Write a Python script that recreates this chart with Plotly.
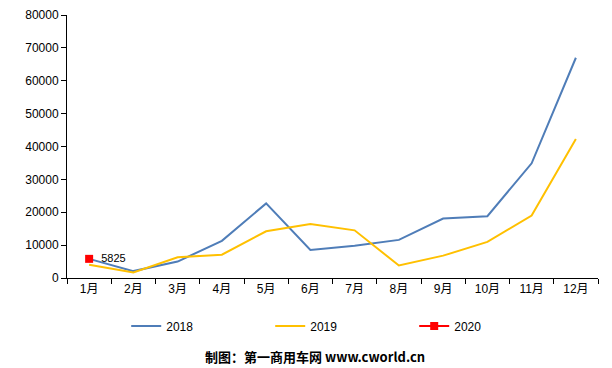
import plotly.graph_objects as go

months = ["1月", "2月", "3月", "4月", "5月", "6月", "7月", "8月", "9月", "10月", "11月", "12月"]
v2018 = [5825, 2100, 5000, 11300, 22700, 8500, 9800, 11600, 18100, 18800, 34900, 67000]
v2019 = [4000, 1700, 6300, 7100, 14200, 16400, 14500, 3800, 6800, 11000, 19000, 42300]
v2020 = [5825]
months2020 = ["1月"]
y_ticks = [0, 10000, 20000, 30000, 40000, 50000, 60000, 70000, 80000]

font_main = "Liberation Sans, Arial, Noto Sans CJK SC, sans-serif"

fig = go.Figure()
fig.add_trace(go.Scatter(x=months, y=v2018, name="2018", mode="lines",
                         line=dict(color="#4F7DB8", width=2)))
fig.add_trace(go.Scatter(x=months, y=v2019, name="2019", mode="lines",
                         line=dict(color="#FFC000", width=2)))
fig.add_trace(go.Scatter(x=months2020, y=v2020, name="2020", mode="lines+markers+text",
                         line=dict(color="#FF0000", width=2),
                         marker=dict(symbol="square", size=8, color="#FF0000"),
                         text=["\u00a0\u00a0" + str(v) for v in v2020], textposition="middle right",
                         textfont=dict(size=11, color="#000000")))

fig.update_layout(
    width=612, height=368,
    margin=dict(l=59, r=22, t=7, b=98, autoexpand=False),
    paper_bgcolor="white", plot_bgcolor="white",
    font=dict(family=font_main, size=12, color="#000000"),
    showlegend=True,
    legend=dict(orientation="h", xref="paper", yref="paper",
                x=0.1115, y=-0.1825, xanchor="left", yanchor="middle",
                entrywidth=99, entrywidthmode="pixels",
                font=dict(size=12)),
    annotations=[dict(text="<b>制图：第一商用车网 www.cworld.cn</b>",
                      xref="paper", yref="paper", x=0.467, y=-0.300,
                      xanchor="center", yanchor="middle", showarrow=False,
                      font=dict(size=13, color="#000000",
                                family="Noto Sans CJK SC, Liberation Sans, sans-serif"))],
)
fig.update_xaxes(type="category", range=[-0.5, 11.5], showline=True, linecolor="#000000", linewidth=1,
                 ticks="outside", tickson="boundaries", ticklen=5, tickcolor="#000000",
                 showgrid=False, zeroline=False)
fig.update_yaxes(range=[0, 80000], tickvals=y_ticks, showline=True, linecolor="#000000",
                 linewidth=1, ticks="outside", ticklen=5, tickcolor="#000000",
                 showgrid=False, zeroline=False, tickformat="d", ticklabeloverflow="allow")

fig.write_html("out.html")
